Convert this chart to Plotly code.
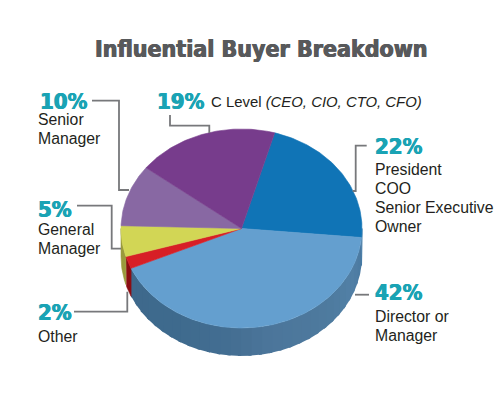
import math
import plotly.graph_objects as go

# ---- data (clockwise from the 16 degree start) ----
categories = ["President / COO / Senior Executive / Owner", "Director or Manager", "Other",
              "General Manager", "Senior Manager", "C Level"]
values = [22, 42, 2, 5, 10, 19]
top_colors = ["#1074b6", "#649fcf", "#d71f26", "#d2d655", "#8868a3", "#773c8c"]
side_colors = ["#175f96", None, "#8c0d12", "#9a9a3c", None, None]

title_text = "Influential Buyer Breakdown"
pct_labels = ["10%", "19%", "22%", "42%", "5%", "2%"]
pct_x = [39.5, 156.5, 374.5, 374.5, 37.5, 37.5]
pct_y = [101.5, 101.5, 146.5, 292.5, 209.5, 312.5]
text_lines = ["Senior", "Manager", "C Level <i>(CEO, CIO, CTO, CFO)</i>", "President", "COO",
              "Senior Executive", "Owner", "Director or", "Manager", "General", "Manager", "Other"]
text_x = [38, 38, 211, 375, 375, 375, 375, 375, 375, 38, 38, 38]
text_y = [119.5, 138, 102, 169, 188.5, 207.5, 226.5, 316, 335.5, 229.5, 248.5, 336]
text_size = [15.8, 15.8, 14.9, 15.8, 15.8, 15.8, 15.8, 15.8, 15.8, 15.8, 15.8, 15.8]

# leader lines
leaders = [
    [(92, 100.7), (119, 100.7), (119, 190), (129, 190)],
    [(170, 115), (170, 125.7), (209.3, 125.7), (209.3, 133)],
    [(366.7, 145.7), (355.7, 145.7), (355.7, 191), (352.7, 191)],
    [(369, 294.7), (355, 294.7)],
    [(77, 205.7), (111.7, 205.7), (111.7, 248.7), (121, 248.7)],
    [(74, 311.7), (127.3, 311.7), (127.3, 291.7)],
]

# side wall shading of the big slice (angle, colour)
wall_stops = [(95, (73, 120, 160)), (115, (82, 128, 166)), (135, (78, 122, 158)),
              (165, (76, 118, 155)), (185, (68, 110, 146)), (215, (62, 106, 141)), (248, (62, 105, 140))]

# ---- geometry of the drawing ----
cx, cy, rx, ry, depth = 241.5, 228.5, 120.5, 99.5, 28
start = 16


def pt(a, dy=0):
    r = math.radians(a)
    return cx + rx * math.sin(r), cy - ry * math.cos(r) + dy


def arc(a0, a1, dy=0, step=1.0):
    n = max(2, int(abs(a1 - a0) / step) + 1)
    return [pt(a0 + (a1 - a0) * i / (n - 1), dy) for i in range(n)]


def poly(points, color, width=0.6):
    xs = [p[0] for p in points] + [points[0][0]]
    ys = [p[1] for p in points] + [points[0][1]]
    return go.Scatter(x=xs, y=ys, mode="lines", fill="toself", fillcolor=color,
                      line=dict(color=color, width=width), hoverinfo="skip", showlegend=False)


def wall_color(a):
    for (a0, c0), (a1, c1) in zip(wall_stops, wall_stops[1:]):
        if a0 <= a <= a1:
            t = (a - a0) / (a1 - a0)
            return "rgb(%d,%d,%d)" % tuple(round(p + (q - p) * t) for p, q in zip(c0, c1))
    return "rgb(%d,%d,%d)" % wall_stops[-1][1]


fig = go.Figure()
edges = [start]
for v in values:
    edges.append(edges[-1] + v * 3.6)

# side wall
for i, v in enumerate(values):
    a0, a1 = max(edges[i], 90), min(edges[i + 1], 270)
    if a1 <= a0:
        continue
    if side_colors[i]:
        fig.add_trace(poly(arc(a0, a1) + arc(a1, a0, depth), side_colors[i]))
    else:
        a = a0
        while a < a1:
            b = min(a + 5, a1)
            e = min(b + 1.5, a1)
            fig.add_trace(poly(arc(a, e, step=.5) + arc(e, a, depth, step=.5), wall_color((a + b) / 2), width=0))
            a = b

# top face
for i, v in enumerate(values):
    fig.add_trace(poly([(cx, cy)] + arc(edges[i], edges[i + 1]), top_colors[i]))

annotations = [dict(x=261.5, y=49, text="<b>%s</b>" % title_text, showarrow=False, xanchor="center", yanchor="middle",
                    font=dict(family="DejaVu Sans Condensed", size=23, color="#58595b",
                              shadow="0.5px 0 0 #58595b, -0.5px 0 0 #58595b"))]
for t, x, y in zip(pct_labels, pct_x, pct_y):
    annotations.append(dict(x=x, y=y, text="<b>%s</b>" % t, showarrow=False, xanchor="left", yanchor="middle",
                            font=dict(family="DejaVu Sans Condensed", size=22, color="#1aa3b4",
                                      shadow="0.4px 0 0 #1aa3b4, -0.4px 0 0 #1aa3b4")))
for t, x, y, s in zip(text_lines, text_x, text_y, text_size):
    annotations.append(dict(x=x, y=y, text=t, showarrow=False, xanchor="left", yanchor="middle",
                            font=dict(family="Liberation Sans", size=s, color="#231f20")))
for a in annotations:
    a.update(borderpad=0, borderwidth=0)

shapes = []
for line in leaders:
    path = "M " + " L ".join("%g %g" % p for p in line)
    shapes.append(dict(type="path", path=path, line=dict(color="#77787b", width=1.8), xref="x", yref="y"))

fig.update_layout(
    width=504, height=396, margin=dict(l=0, r=0, t=0, b=0),
    paper_bgcolor="white", plot_bgcolor="white", showlegend=False,
    xaxis=dict(range=[0, 504], visible=False, fixedrange=True),
    yaxis=dict(range=[396, 0], visible=False, fixedrange=True),
    annotations=annotations, shapes=shapes,
)
fig.write_html("out.html", config=dict(displayModeBar=False),
               post_script="document.body.style.margin='0';document.body.style.overflow='hidden';")
